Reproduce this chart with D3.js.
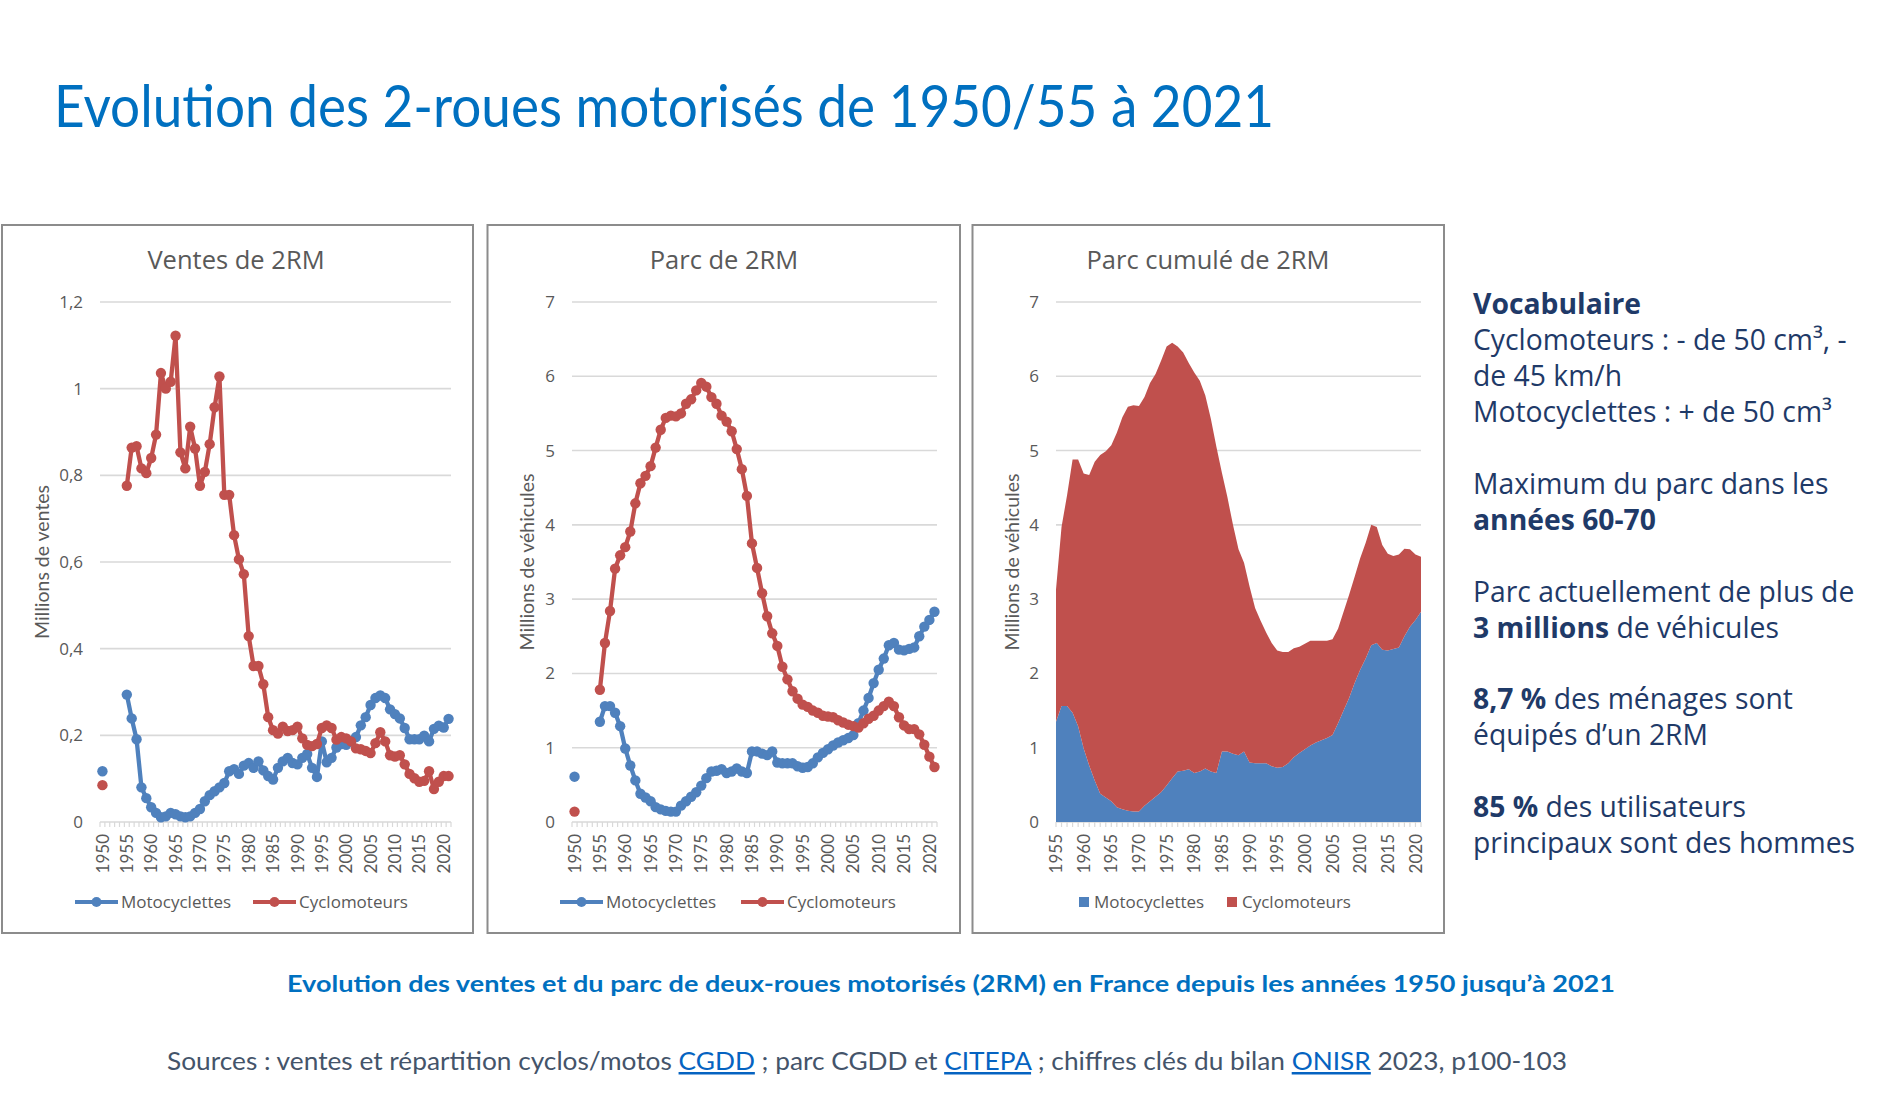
<!DOCTYPE html>
<html><head><meta charset="utf-8">
<script src="https://cdn.jsdelivr.net/npm/d3@7"></script>
<style>body{margin:0;background:#fff;overflow:hidden}</style>
</head><body><svg id="c" width="1901" height="1112"></svg>
<script>
// ---------- DATA ----------
const years = d3.range(1950, 2022);            // categories for charts 1 & 2
const yearsCumul = d3.range(1955, 2022);       // categories for chart 3
const seriesNames = ["Motocyclettes", "Cyclomoteurs"];

// Ventes (millions)
const ventesMoto = [0.117, null, null, null, null,
  0.294, 0.239, 0.191, 0.080, 0.055, 0.034, 0.021, 0.011, 0.013, 0.021,
  0.018, 0.013, 0.011, 0.013, 0.021, 0.030, 0.048, 0.062, 0.071, 0.080,
  0.090, 0.117, 0.122, 0.111, 0.130, 0.136, 0.125, 0.140, 0.119, 0.106,
  0.098, 0.125, 0.140, 0.148, 0.136, 0.133, 0.148, 0.157, 0.125, 0.104,
  0.186, 0.138, 0.148, 0.172, 0.180, 0.178, 0.186, 0.196, 0.223, 0.242,
  0.270, 0.286, 0.292, 0.286, 0.260, 0.249, 0.239, 0.217, 0.191, 0.191,
  0.191, 0.199, 0.186, 0.215, 0.222, 0.218, 0.238];
const ventesCyclo = [0.085, null, null, null, null,
  0.776, 0.864, 0.867, 0.816, 0.805, 0.840, 0.894, 1.036, 1.000, 1.016,
  1.122, 0.853, 0.816, 0.912, 0.862, 0.776, 0.808, 0.872, 0.957, 1.028,
  0.755, 0.755, 0.662, 0.606, 0.572, 0.429, 0.360, 0.360, 0.318, 0.242,
  0.212, 0.204, 0.220, 0.210, 0.212, 0.220, 0.193, 0.178, 0.175, 0.180,
  0.217, 0.223, 0.217, 0.190, 0.196, 0.193, 0.186, 0.170, 0.168, 0.164,
  0.159, 0.182, 0.207, 0.186, 0.154, 0.151, 0.154, 0.133, 0.111, 0.101,
  0.093, 0.095, 0.117, 0.076, 0.093, 0.106, 0.106];

// Parc (millions de véhicules)
const parcMoto = [0.61, null, null, null, null,
  1.35, 1.56, 1.56, 1.47, 1.29, 0.99, 0.76, 0.56, 0.38, 0.33,
  0.28, 0.20, 0.17, 0.15, 0.14, 0.14, 0.22, 0.28, 0.34, 0.40,
  0.49, 0.59, 0.68, 0.69, 0.71, 0.66, 0.68, 0.72, 0.68, 0.66,
  0.95, 0.95, 0.92, 0.90, 0.95, 0.80, 0.79, 0.79, 0.79, 0.75,
  0.73, 0.74, 0.79, 0.87, 0.93, 0.98, 1.03, 1.07, 1.10, 1.13,
  1.17, 1.33, 1.50, 1.67, 1.87, 2.05, 2.20, 2.38, 2.41, 2.32,
  2.31, 2.33, 2.35, 2.50, 2.63, 2.72, 2.83];
const parcCyclo = [0.14, null, null, null, null,
  1.78, 2.41, 2.84, 3.41, 3.59, 3.70, 3.91, 4.29, 4.56, 4.66,
  4.79, 5.04, 5.28, 5.44, 5.47, 5.46, 5.50, 5.63, 5.69, 5.81,
  5.91, 5.86, 5.72, 5.63, 5.47, 5.39, 5.26, 5.02, 4.75, 4.39,
  3.75, 3.42, 3.08, 2.77, 2.54, 2.37, 2.09, 1.92, 1.76, 1.66,
  1.58, 1.55, 1.50, 1.47, 1.43, 1.42, 1.41, 1.37, 1.34, 1.31,
  1.29, 1.27, 1.33, 1.39, 1.43, 1.50, 1.56, 1.62, 1.56, 1.41,
  1.30, 1.25, 1.25, 1.18, 1.04, 0.88, 0.74];

const ticksVentes = [0, 0.2, 0.4, 0.6, 0.8, 1, 1.2];
const ticksParc = [0, 1, 2, 3, 4, 5, 6, 7];

// ---------- DRAW ----------
const BLUE = "#4F81BD", RED = "#C0504D", GRID = "#D9D9D9", TXT = "#595959";
const colors = [BLUE, RED];
const svg = d3.select("#c");
svg.append("rect").attr("width", 1901).attr("height", 1112).attr("fill", "#fff");
const fr = v => d3.format(".1~f")(v).replace(".", ",");
const LEG_Y = 902;

// Main title
svg.append("text").attr("x", 54).attr("y", 127)
  .attr("font-family", "Lato, 'Open Sans', sans-serif").attr("font-size", 58)
  .attr("fill", "#0070C0").attr("textLength", 1220).attr("lengthAdjust", "spacingAndGlyphs")
  .text("Evolution des 2-roues motorisés de 1950/55 à 2021");

const panelY = 225, panelH = 708;
const plotTop = 302, plotBottom = 822;

function panel(px, pw, title, tx) {
  svg.append("rect").attr("x", px).attr("y", panelY).attr("width", pw).attr("height", panelH)
    .attr("fill", "#fff").attr("stroke", "#8C8C8C").attr("stroke-width", 2);
  svg.append("text").attr("x", tx).attr("y", 269).attr("text-anchor", "middle")
    .attr("font-family", "'Open Sans', sans-serif").attr("font-size", 25.5).attr("fill", TXT)
    .text(title);
}

function yAxis(y, ticks, x0, x1, labelX, titleX, title) {
  const g = svg.append("g");
  g.selectAll("line.grid").data(ticks).join("line")
    .attr("x1", x0).attr("x2", x1).attr("y1", d => y(d)).attr("y2", d => y(d))
    .attr("stroke", GRID).attr("stroke-width", 1.6);
  g.selectAll("text.tl").data(ticks).join("text")
    .attr("x", labelX).attr("y", d => y(d)).attr("dy", "0.35em").attr("text-anchor", "end")
    .attr("font-family", "'Open Sans', sans-serif").attr("font-size", 17).attr("fill", TXT)
    .text(fr);
  svg.append("text").attr("transform", `translate(${titleX},${(plotTop + plotBottom) / 2}) rotate(-90)`)
    .attr("text-anchor", "middle").attr("dy", "0.35em")
    .attr("font-family", "Lato, sans-serif").attr("font-size", 19.5).attr("fill", TXT)
    .text(title);
}

function xLabels(cats, pos, tickPos) {
  const g = svg.append("g");
  g.selectAll("line").data(tickPos).join("line")
    .attr("x1", d => d).attr("x2", d => d).attr("y1", plotBottom).attr("y2", plotBottom + 5)
    .attr("stroke", GRID).attr("stroke-width", 1.2);
  g.selectAll("text").data(cats.filter(c => c % 5 === 0)).join("text")
    .attr("transform", d => `translate(${pos(d)},${plotBottom + 12}) rotate(-90)`)
    .attr("text-anchor", "end").attr("dy", "0.36em")
    .attr("font-family", "Lato, sans-serif").attr("font-size", 17).attr("fill", TXT)
    .text(d => d);
}

function legendLine(items) {
  items.forEach((it, i) => {
    const g = svg.append("g");
    g.append("line").attr("x1", it.x).attr("x2", it.x + 43).attr("y1", LEG_Y).attr("y2", LEG_Y)
      .attr("stroke", colors[i]).attr("stroke-width", 4.2);
    g.append("circle").attr("cx", it.x + 21.5).attr("cy", LEG_Y).attr("r", 5).attr("fill", colors[i]);
    g.append("text").attr("x", it.x + 46).attr("y", LEG_Y).attr("dy", "0.35em")
      .attr("font-family", "'Open Sans', sans-serif").attr("font-size", 17).attr("fill", TXT)
      .text(seriesNames[i]);
  });
}

function lineChart(opts) {
  panel(opts.px, opts.pw, opts.title, opts.tx);
  const x = d3.scaleBand().domain(years).range([opts.x0, opts.x1]);
  const cx = d => x(d) + x.bandwidth() / 2;
  const y = d3.scaleLinear().domain([0, d3.max(opts.ticks)]).range([plotBottom, plotTop]);
  yAxis(y, opts.ticks, opts.x0, opts.x1, opts.labelX, opts.titleX, opts.ytitle);
  const tickPos = years.map(d => x(d)).concat([opts.x1]);
  xLabels(years, cx, tickPos);
  const line = d3.line().defined(d => d.v != null).x(d => cx(d.year)).y(d => y(d.v));
  opts.series.forEach((s, i) => {
    const data = years.map((yr, k) => ({ year: yr, v: s[k] }));
    svg.append("path").datum(data).attr("d", line).attr("fill", "none")
      .attr("stroke", colors[i]).attr("stroke-width", 4.3).attr("stroke-linejoin", "round");
    svg.append("g").selectAll("circle").data(data.filter(d => d.v != null)).join("circle")
      .attr("cx", d => cx(d.year)).attr("cy", d => y(d.v)).attr("r", 5.2).attr("fill", colors[i]);
  });
  legendLine(opts.legend);
}

lineChart({ px: 2, pw: 471, title: "Ventes de 2RM", tx: 236, x0: 100, x1: 451,
  ticks: ticksVentes, labelX: 83, titleX: 42, ytitle: "Millions de ventes",
  series: [ventesMoto, ventesCyclo], legend: [{ x: 75 }, { x: 253 }] });

lineChart({ px: 487.5, pw: 472.5, title: "Parc de 2RM", tx: 724, x0: 572, x1: 937,
  ticks: ticksParc, labelX: 555, titleX: 527, ytitle: "Millions de véhicules",
  series: [parcMoto, parcCyclo], legend: [{ x: 560 }, { x: 741 }] });

// Chart 3: stacked area
(function () {
  panel(972.5, 471.5, "Parc cumulé de 2RM", 1208);
  const x0 = 1056, x1 = 1421;
  const x = d3.scalePoint().domain(yearsCumul).range([x0, x1]);
  const y = d3.scaleLinear().domain([0, 7]).range([plotBottom, plotTop]);
  yAxis(y, ticksParc, x0, x1, 1039, 1012, "Millions de véhicules");
  const rows = yearsCumul.map(yr => {
    const k = years.indexOf(yr);
    return { year: yr, Motocyclettes: parcMoto[k], Cyclomoteurs: parcCyclo[k] };
  });
  const stack = d3.stack().keys(seriesNames)(rows);
  const area = d3.area().x(d => x(d.data.year)).y0(d => y(d[0])).y1(d => y(d[1]));
  svg.append("g").selectAll("path").data(stack).join("path")
    .attr("d", area).attr("fill", (d, i) => colors[i]);
  xLabels(yearsCumul, d => x(d), yearsCumul.map(d => x(d)));
  // legend
  [{ x: 1079 }, { x: 1227 }].forEach((it, i) => {
    svg.append("rect").attr("x", it.x).attr("y", LEG_Y - 5).attr("width", 10).attr("height", 10).attr("fill", colors[i]);
    svg.append("text").attr("x", it.x + 15).attr("y", LEG_Y).attr("dy", "0.35em")
      .attr("font-family", "'Open Sans', sans-serif").attr("font-size", 17).attr("fill", TXT)
      .text(seriesNames[i]);
  });
})();

// Right text block
const NAVY = "#1F3A68";
const rtLines = [
  [["Vocabulaire", true]],
  [["Cyclomoteurs : - de 50 cm³, -", false]],
  [["de 45 km/h", false]],
  [["Motocyclettes : + de 50 cm³", false]],
  [["Maximum du parc dans les", false]],
  [["années 60-70", true]],
  [["Parc actuellement de plus de", false]],
  [["3 millions", true], [" de véhicules", false]],
  [["8,7 %", true], [" des ménages sont", false]],
  [["équipés d’un 2RM", false]],
  [["85 %", true], [" des utilisateurs", false]],
  [["principaux sont des hommes", false]]
];
const rtBaselines = [314, 350, 386, 422, 494, 530, 602, 638, 709, 745, 817, 853];
rtLines.forEach((parts, i) => {
  const t = svg.append("text").attr("x", 1473).attr("y", rtBaselines[i])
    .attr("font-family", "'Open Sans', sans-serif").attr("font-size", 28.3).attr("fill", NAVY)
    .attr("xml:space", "preserve");
  parts.forEach(p => t.append("tspan").attr("font-weight", p[1] ? 700 : 400).text(p[0]));
});

// Caption
svg.append("text").attr("x", 951).attr("y", 992).attr("text-anchor", "middle")
  .attr("font-family", "Lato, sans-serif").attr("font-size", 23).attr("font-weight", 700)
  .attr("fill", "#0070C0").attr("textLength", 1328).attr("lengthAdjust", "spacingAndGlyphs")
  .text("Evolution des ventes et du parc de deux-roues motorisés (2RM) en France depuis les années 1950 jusqu’à 2021");

// Sources
const srcParts = [
  ["Sources : ventes et répartition cyclos/motos ", false], ["CGDD", true],
  [" ; parc CGDD et ", false], ["CITEPA", true],
  [" ; chiffres clés du bilan ", false], ["ONISR", true], [" 2023, p100-103", false]
];
const src = svg.append("text").attr("x", 167).attr("y", 1070)
  .attr("font-family", "Lato, sans-serif").attr("font-size", 25).attr("fill", "#44546A")
  .attr("textLength", 1400).attr("lengthAdjust", "spacingAndGlyphs").attr("xml:space", "preserve");
srcParts.forEach(p => {
  const ts = src.append("tspan").text(p[0]);
  if (p[1]) ts.attr("fill", "#0563C1").attr("text-decoration", "underline");
});
</script>
</body></html>
